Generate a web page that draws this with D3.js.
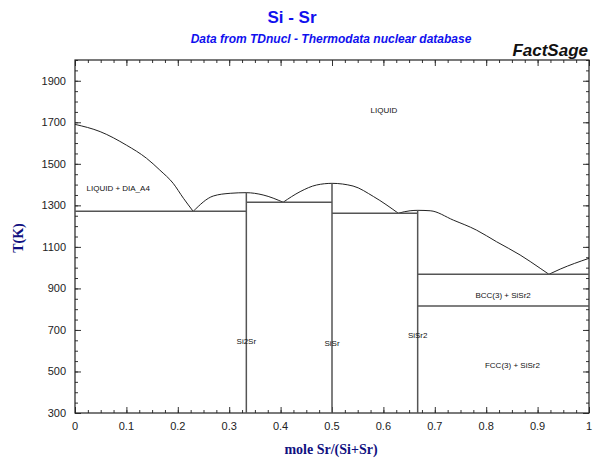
<!DOCTYPE html>
<html>
<head>
<meta charset="utf-8">
<script src="https://cdn.jsdelivr.net/npm/d3@7"></script>
<style>
  body { margin: 0; background: #fff; }
  svg { display: block; }
  .tick-label { font-family: Arial, "Liberation Sans", sans-serif; font-size: 11px; fill: #222; }
  .phase { font-family: Arial, "Liberation Sans", sans-serif; font-size: 8px; fill: #111; }
</style>
</head>
<body>
<div id="chart"></div>
<script>
// liquidus branches, [mole Sr, T(K)]
const liquidusSi = [[0, 1690], [0.049, 1655], [0.1, 1590], [0.139, 1527], [0.165, 1470], [0.191, 1406], [0.211, 1334], [0.23, 1271]];
const liquidusSi2Sr = [[0.23, 1271], [0.269, 1345], [0.302, 1358], [0.333, 1361], [0.366, 1350], [0.405, 1315]];
const liquidusSiSr = [[0.405, 1315], [0.438, 1366], [0.47, 1398], [0.5, 1406], [0.541, 1393], [0.581, 1342], [0.629, 1262]];
const liquidusSiSr2 = [[0.629, 1262], [0.652, 1274], [0.667, 1276], [0.691, 1274], [0.736, 1229], [0.781, 1181], [0.82, 1125], [0.866, 1061], [0.905, 997], [0.922, 968]];
const liquidusSr = [[0.922, 968], [0.944, 993], [1, 1045]];

// invariant lines: from, to, T
const invariants = [[0, 1 / 3, 1271], [1 / 3, 0.5, 1315], [0.5, 2 / 3, 1262], [2 / 3, 1, 968], [2 / 3, 1, 815]];

// line compounds: name, x, melting T
const compounds = [["Si2Sr", 1 / 3, 1361], ["SiSr", 0.5, 1406], ["SiSr2", 2 / 3, 1276]];
const compoundLabelT = [648, 636, 676];

// phase field labels: text, x, T
const phaseLabels = [["LIQUID", 0.601, 1759], ["LIQUID + DIA_A4", 0.084, 1383], ["BCC(3) + SiSr2", 0.833, 868], ["FCC(3) + SiSr2", 0.851, 531]];

const xTicks = [0, 0.1, 0.2, 0.3, 0.4, 0.5, 0.6, 0.7, 0.8, 0.9, 1];
const yTicks = [300, 500, 700, 900, 1100, 1300, 1500, 1700, 1900];

const width = 598, height = 461;
const m = { left: 75, right: 589, top: 60, bottom: 413 };

const svg = d3.select('#chart').append('svg')
  .attr('width', width)
  .attr('height', height);

const x = d3.scaleLinear().domain([0, 1]).range([m.left, m.right]);
const y = d3.scaleLinear().domain([300, 2000]).range([m.bottom, m.top]);

// header
svg.append('text')
  .attr('x', 292).attr('y', 23)
  .attr('text-anchor', 'middle')
  .attr('font-family', 'Arial, "Liberation Sans", sans-serif')
  .attr('font-weight', 'bold')
  .attr('font-size', '17px')
  .attr('fill', '#1010ee')
  .text('Si - Sr');

svg.append('text')
  .attr('x', 331).attr('y', 43)
  .attr('text-anchor', 'middle')
  .attr('font-family', 'Arial, "Liberation Sans", sans-serif')
  .attr('font-weight', 'bold')
  .attr('font-style', 'italic')
  .attr('font-size', '12px')
  .attr('fill', '#1010ee')
  .text('Data from TDnucl - Thermodata nuclear database');

svg.append('text')
  .attr('x', 588).attr('y', 56)
  .attr('text-anchor', 'end')
  .attr('font-family', 'Arial, "Liberation Sans", sans-serif')
  .attr('font-weight', 'bold')
  .attr('font-style', 'italic')
  .attr('font-size', '17px')
  .attr('fill', '#111')
  .text('FactSage');

// axes, ticks pointing inward
const xMinor = d3.range(0, 1.0001, 0.025);
const yMinor = d3.range(300, 2000.1, 50);

svg.append('g')
  .attr('transform', `translate(0,${m.bottom})`)
  .call(d3.axisTop(x).tickValues(xMinor).tickSize(3).tickFormat(''));
svg.append('g')
  .attr('transform', `translate(0,${m.top})`)
  .call(d3.axisBottom(x).tickValues(xMinor).tickSize(3).tickFormat(''));
svg.append('g')
  .attr('transform', `translate(${m.left},0)`)
  .call(d3.axisRight(y).tickValues(yMinor).tickSize(3).tickFormat(''));
svg.append('g')
  .attr('transform', `translate(${m.right},0)`)
  .call(d3.axisLeft(y).tickValues(yMinor).tickSize(3).tickFormat(''));

// longer major ticks
svg.append('g').attr('transform', `translate(0,${m.bottom})`)
  .call(d3.axisTop(x).tickValues(xTicks).tickSize(6).tickFormat(''));
svg.append('g').attr('transform', `translate(0,${m.top})`)
  .call(d3.axisBottom(x).tickValues(xTicks).tickSize(6).tickFormat(''));
svg.append('g').attr('transform', `translate(${m.left},0)`)
  .call(d3.axisRight(y).tickValues(yTicks).tickSize(6).tickFormat(''));
svg.append('g').attr('transform', `translate(${m.right},0)`)
  .call(d3.axisLeft(y).tickValues(yTicks).tickSize(6).tickFormat(''));

svg.selectAll('.domain').remove();
svg.selectAll('.tick line').attr('stroke', '#333');

// tick labels
svg.append('g').selectAll('text')
  .data(xTicks).join('text')
  .attr('class', 'tick-label')
  .attr('x', d => x(d)).attr('y', m.bottom + 17)
  .attr('text-anchor', 'middle')
  .text(d => d);

svg.append('g').selectAll('text')
  .data(yTicks).join('text')
  .attr('class', 'tick-label')
  .attr('x', m.left - 9).attr('y', d => y(d) + 4)
  .attr('text-anchor', 'end')
  .text(d => d);

// frame
svg.append('rect')
  .attr('x', m.left).attr('y', m.top)
  .attr('width', m.right - m.left).attr('height', m.bottom - m.top)
  .attr('fill', 'none')
  .attr('stroke', '#222')
  .attr('stroke-width', 1.2);

// axis titles
svg.append('text')
  .attr('x', 331).attr('y', 454)
  .attr('text-anchor', 'middle')
  .attr('font-family', '"Liberation Serif", "DejaVu Serif", serif')
  .attr('font-weight', 'bold')
  .attr('font-size', '14px')
  .attr('fill', '#101080')
  .text('mole Sr/(Si+Sr)');

svg.append('text')
  .attr('transform', 'translate(23,238) rotate(-90)')
  .attr('text-anchor', 'middle')
  .attr('font-family', '"Liberation Serif", "DejaVu Serif", serif')
  .attr('font-weight', 'bold')
  .attr('font-size', '14px')
  .attr('fill', '#101080')
  .text('T(K)');

// phase diagram lines
const line = d3.line()
  .x(d => x(d[0]))
  .y(d => y(d[1]))
  .curve(d3.curveMonotoneX);

const plot = svg.append('g');

plot.selectAll('path.liq')
  .data([liquidusSi, liquidusSi2Sr, liquidusSiSr, liquidusSiSr2, liquidusSr])
  .join('path')
  .attr('class', 'liq')
  .attr('d', line)
  .attr('fill', 'none')
  .attr('stroke', '#222')
  .attr('stroke-width', 1);

plot.selectAll('line.inv')
  .data(invariants).join('line')
  .attr('class', 'inv')
  .attr('x1', d => x(d[0])).attr('x2', d => x(d[1]))
  .attr('y1', d => y(d[2])).attr('y2', d => y(d[2]))
  .attr('stroke', '#555')
  .attr('stroke-width', 1.5);

plot.selectAll('line.cmp')
  .data(compounds).join('line')
  .attr('class', 'cmp')
  .attr('x1', d => x(d[1])).attr('x2', d => x(d[1]))
  .attr('y1', d => y(d[2])).attr('y2', y(300))
  .attr('stroke', '#555')
  .attr('stroke-width', 1.5);

// labels
plot.selectAll('text.cmp')
  .data(compounds).join('text')
  .attr('class', 'phase cmp')
  .attr('x', d => x(d[1]))
  .attr('y', (d, i) => y(compoundLabelT[i]) + 3)
  .attr('text-anchor', 'middle')
  .text(d => d[0]);

plot.selectAll('text.ph')
  .data(phaseLabels).join('text')
  .attr('class', 'phase ph')
  .attr('x', d => x(d[1]))
  .attr('y', d => y(d[2]) + 3)
  .attr('text-anchor', 'middle')
  .text(d => d[0]);
</script>
</body>
</html>
